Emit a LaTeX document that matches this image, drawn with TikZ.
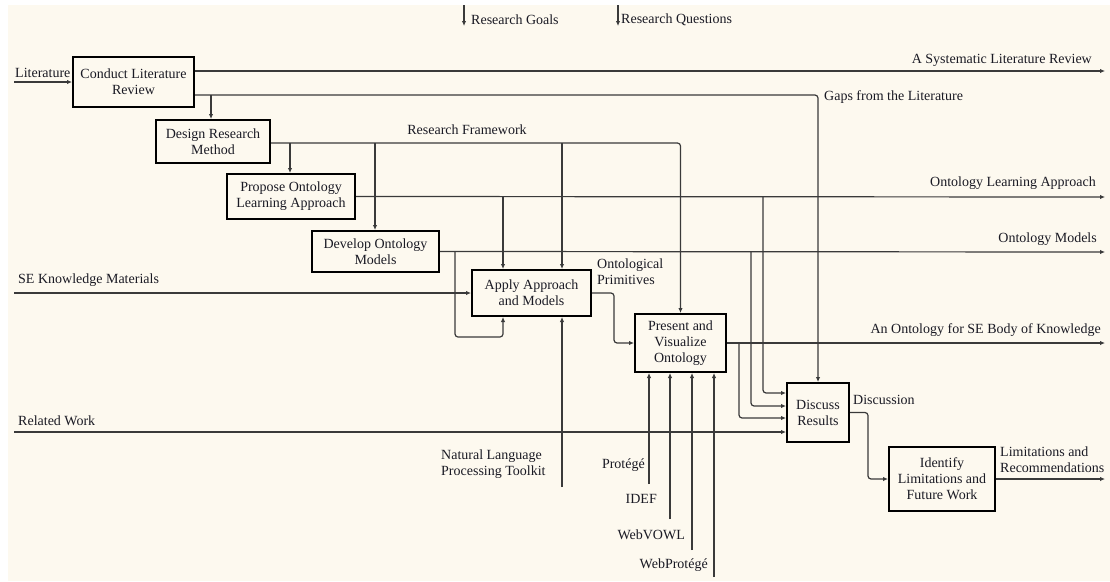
\documentclass[tikz,border=0pt]{standalone}
\usepackage{fontspec}
\setmainfont{Liberation Serif}
\usetikzlibrary{arrows.meta,calc}
\definecolor{cream}{HTML}{FDF9EF}
\definecolor{wirec}{HTML}{3A3A3A}
\definecolor{txt}{HTML}{1A1A24}
\begin{document}
\begin{tikzpicture}[x=1pt,y=-1pt,
  font=\fontsize{14}{16}\selectfont,
  box/.style={draw=black, line width=2pt, inner sep=0pt, align=center, text=txt},
  wire/.style={draw=wirec, line width=1.2pt, rounded corners=3pt},
  arr/.style={wire, -{Latex[length=5pt,width=4.5pt]}},
  lbl/.style={inner sep=0pt, align=left, text=txt}]
% page
\fill[white] (0,0) rectangle (1110,581);
\fill[cream] (8,5) rectangle (1110,581);
\useasboundingbox (0,0) rectangle (1110,581);

% boxes
\node[box, minimum width=121pt, minimum height=50pt] (clr) at (133.5,82) {Conduct Literature\\Review};
\node[box, minimum width=114pt, minimum height=43pt] (drm) at (213,141.5) {Design Research\\Method};
\node[box, minimum width=128pt, minimum height=45pt] (pola) at (291,196.5) {Propose Ontology\\Learning Approach};
\node[box, minimum width=127pt, minimum height=41pt] (dom) at (375.5,251.5) {Develop Ontology\\Models};
\node[box, minimum width=119pt, minimum height=46pt] (aam) at (531.5,293) {Apply Approach\\and Models};
\node[box, minimum width=91pt, minimum height=58pt] (pvo) at (680.5,343) {Present and\\Visualize\\Ontology};
\node[box, minimum width=62pt, minimum height=59pt] (dr) at (818,412.5) {Discuss\\Results};
\node[box, minimum width=106pt, minimum height=64pt] (ilfw) at (942,479) {Identify\\Limitations and\\Future Work};

% free ends
\coordinate (litS) at (14,82);
\coordinate (sekS) at (14,293);
\coordinate (rwS) at (14,432);
\coordinate (slrE) at (1105,71);
\coordinate (olaE) at (1105,197);
\coordinate (omE) at (1105,252);
\coordinate (aoE) at (1105,343);
\coordinate (lrE) at (1105,479);
\coordinate (rgS) at (464,5);
\coordinate (rgE) at (464,26);
\coordinate (rqS) at (618,5);
\coordinate (rqE) at (618,26);
\coordinate (nlpS) at (562,487);
\coordinate (proS) at (649,484);
\coordinate (idefS) at (670,519);
\coordinate (wvS) at (692,550);
\coordinate (wpS) at (714,577);
% junctions
\coordinate (j1) at (211,95);
\coordinate (j2) at (290,143);
\coordinate (j3) at (375,143);
\coordinate (j4) at (562,143);
\coordinate (j5) at (503,197);
\coordinate (j6) at (763,197);
\coordinate (j7) at (455,252);
\coordinate (j8) at (751,252);
\coordinate (j9) at (739,343);

% controls on top
\draw[arr] (rgS) -- (rgE);
\draw[arr] (rqS) -- (rqE);
\node[lbl, anchor=west] at (471,20) {Research Goals};
\node[lbl, anchor=west] at (621,20) {Research Questions};

% Literature
\draw[arr] (litS) -- (clr.west);
\node[lbl, anchor=west] at (15,73) {Literature};

% CLR outputs
\draw[arr] (clr.east |- 0,71) -- (slrE);
\node[lbl, anchor=east] at (1092,60) {A Systematic Literature Review};
\draw[arr] (clr.east |- 0,95) -| (dr.north);
\node[lbl, anchor=west] at (824,97) {Gaps from the Literature};
\draw[arr] (j1) -- (drm.north -| j1);

% Research framework
\draw[arr] (drm.east |- 0,143) -| (pvo.north);
\node[lbl, anchor=center] at (467,130) {Research Framework};
\draw[arr] (j2) -- (pola.north -| j2);
\draw[arr] (j3) -- (dom.north -| j3);
\draw[arr] (j4) -- (aam.north -| j4);

% POLA output
\draw[arr] (pola.east) -- (olaE);
\node[lbl, anchor=east] at (1096,183) {Ontology Learning Approach};
\draw[arr] (j5) -- (aam.north -| j5);
\draw[arr] (j6) |- (dr.west |- 0,393);

% DOM output
\draw[arr] (dom.east) -- (omE);
\node[lbl, anchor=east] at (1097,239) {Ontology Models};
\draw[arr] (j7) |- (503,337) -- (aam.south -| j5);
\draw[arr] (j8) |- (dr.west |- 0,406);

% SE knowledge materials
\draw[arr] (sekS) -- (aam.west);
\node[lbl, anchor=west] at (18,280) {SE Knowledge Materials};

% AAM output
\draw[arr] (aam.east) -- (614,293) |- (pvo.west);
\node[lbl, anchor=west] at (597,272) {Ontological\\Primitives};

% NLP toolkit
\draw[arr] (nlpS) -- (aam.south -| nlpS);
\node[lbl, anchor=west] at (441,464) {Natural Language\\Processing Toolkit};

% tools
\draw[arr] (proS) -- (pvo.south -| proS);
\draw[arr] (idefS) -- (pvo.south -| idefS);
\draw[arr] (wvS) -- (pvo.south -| wvS);
\draw[arr] (wpS) -- (pvo.south -| wpS);
\node[lbl, anchor=east] at (645,465) {Protégé};
\node[lbl, anchor=east] at (657,499) {IDEF};
\node[lbl, anchor=east] at (685,535) {WebVOWL};
\node[lbl, anchor=east] at (708,565) {WebProtégé};

% PVO output
\draw[arr] (pvo.east) -- (aoE);
\node[lbl, anchor=east] at (1101,330) {An Ontology for SE Body of Knowledge};
\draw[arr] (j9) |- (dr.west |- 0,418);

% Related work
\draw[arr] (rwS) -- (dr.west |- rwS);
\node[lbl, anchor=west] at (18,421) {Related Work};

% DR output
\draw[arr] (dr.east) -- (868,412.5) |- (ilfw.west);
\node[lbl, anchor=west] at (853,400) {Discussion};

% ILFW output
\draw[arr] (ilfw.east) -- (lrE);
\node[lbl, anchor=west] at (1000,460) {Limitations and\\Recommendations};
\end{tikzpicture}
\end{document}
